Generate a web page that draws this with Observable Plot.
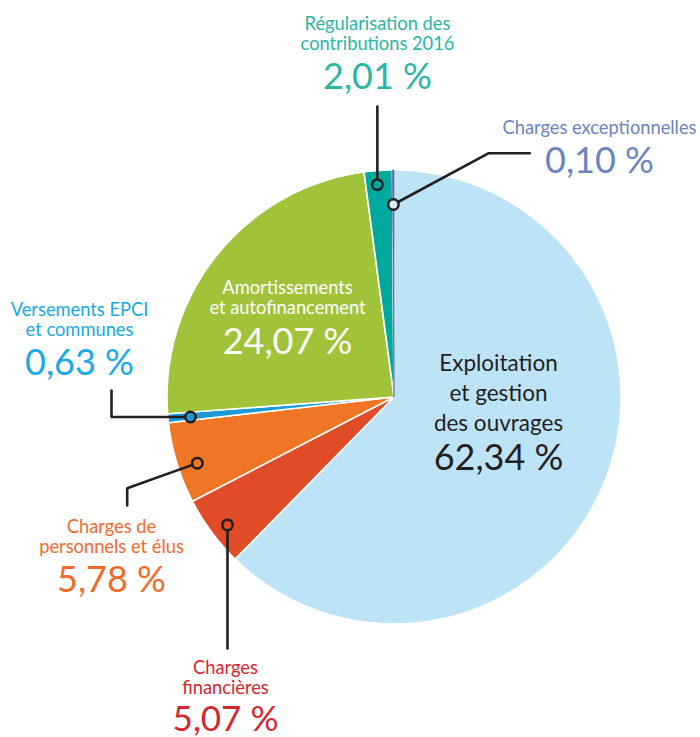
<!DOCTYPE html>
<html><head><meta charset="utf-8">
<script src="https://cdn.jsdelivr.net/npm/d3@7"></script>
<script src="https://cdn.jsdelivr.net/npm/@observablehq/plot@0.6"></script>
<style>body{margin:0;background:#fff} #chart svg{display:block}</style>
</head><body><div id="chart"></div>
<script>
// ---- data ----
const categories = [
  "Exploitation et gestion des ouvrages",
  "Charges financières",
  "Charges de personnels et élus",
  "Versements EPCI et communes",
  "Amortissements et autofinancement",
  "Régularisation des contributions 2016",
  "Charges exceptionnelles"
];
const values = [62.34, 5.07, 5.78, 0.63, 24.07, 2.01, 0.10];
const valueLabels = ["62,34 %", "5,07 %", "5,78 %", "0,63 %", "24,07 %", "2,01 %", "0,10 %"];
const labelLines = [
  ["Exploitation", "et gestion", "des ouvrages"],
  ["Charges", "financières"],
  ["Charges de", "personnels et élus"],
  ["Versements EPCI", "et communes"],
  ["Amortissements", "et autofinancement"],
  ["Régularisation des", "contributions 2016"],
  ["Charges exceptionnelles"]
];

// ---- styles ----
const sliceColors = ["#BDE3F7", "#E04B28", "#EE7624", "#1D9AD6", "#A1C33A", "#00A99D", "#4F63AE"];
const labelColors = ["#231F20", "#D5262E", "#F26A2C", "#18A9E6", "#FFFFFF", "#2BB5A6", "#6A84C2"];
const dotFills = [null, "#E04B28", "#EE7624", "#1D9AD6", null, "#00A99D", "#DDEFF9"];

// ---- layout (pixels) ----
const W = 700, H = 737, CX = 393.5, CY = 396.5, R = 227;
const FONT = "Lato, 'Open Sans', sans-serif";
// label center x, baselines of text lines, baseline of value, text size, value size
const labelLayout = [
  {cx: 498, lines: [370.7, 400.7, 430.3], num: 469, fs: 22.5, ns: 36},
  {cx: 225, lines: [673, 693], num: 730, fs: 18.3, ns: 35},
  {cx: 111, lines: [532, 552], num: 591, fs: 18.3, ns: 36},
  {cx: 79,  lines: [315, 335], num: 374, fs: 18.3, ns: 36},
  {cx: 287, lines: [293, 313], num: 353, fs: 18.3, ns: 36},
  {cx: 377, lines: [29, 49], num: 88, fs: 18.3, ns: 36},
  {cx: 599, lines: [133], num: 172, fs: 18.3, ns: 36}
];
// leader: where in slice the dot sits (fraction of angle, radius), then elbow points
const leaderLayout = [
  null,
  {f: 0.44, r: 210, pts: d => [[d.x, 648]]},
  {f: 0.42, r: 207.5, pts: d => [[126.7, 487.7], [126.7, 505]]},
  {f: 0.40, r: 204.5, pts: d => [[111, d.y], [111, 390]]},
  null,
  {f: 0.43, r: 213, pts: d => [[d.x, 106]]},
  {f: 0.5, r: 192.5, pts: d => [[488.3, 152.7], [529.3, 152.7]]}
];

// ---- geometry from data ----
const toX = px => px - CX, toY = py => CY - py;
const total = d3.sum(values);
let acc = 0;
const slices = values.map((v, i) => {
  const a0 = acc / total * 2 * Math.PI; acc += v;
  const a1 = acc / total * 2 * Math.PI;
  return {i, name: categories[i], a0, a1};
});
const polyPts = [];
for (const s of slices) {
  polyPts.push({i: s.i, name: s.name, x: 0, y: 0});
  const n = Math.max(2, Math.ceil((s.a1 - s.a0) / (Math.PI / 360)));
  for (let k = 0; k <= n; k++) {
    const a = s.a0 + (s.a1 - s.a0) * k / n;
    polyPts.push({i: s.i, name: s.name, x: R * Math.sin(a), y: R * Math.cos(a)});
  }
  polyPts.push({i: s.i, name: s.name, x: 0, y: 0});
}
const dots = [], leaderPts = [];
slices.forEach(s => {
  const L = leaderLayout[s.i];
  if (!L) return;
  const a = s.a0 + (s.a1 - s.a0) * L.f;
  const px = CX + L.r * Math.sin(a), py = CY - L.r * Math.cos(a);
  dots.push({i: s.i, x: toX(px), y: toY(py)});
  leaderPts.push({i: s.i, x: toX(px), y: toY(py)});
  for (const [ex, ey] of L.pts({x: px, y: py})) leaderPts.push({i: s.i, x: toX(ex), y: toY(ey)});
});
const texts = [];
categories.forEach((c, i) => {
  const Lt = labelLayout[i];
  labelLines[i].forEach((t, k) => texts.push({x: toX(Lt.cx), y: toY(Lt.lines[k]), text: t, fill: labelColors[i], size: Lt.fs}));
  texts.push({x: toX(Lt.cx), y: toY(Lt.num), text: valueLabels[i], fill: labelColors[i], size: Lt.ns});
});

const chart = Plot.plot({
  width: W, height: H,
  margin: 0,
  x: {domain: [-CX, W - CX], axis: null},
  y: {domain: [-(H - CY), CY], axis: null},
  color: {type: "identity"},
  marks: [
    Plot.line(polyPts, {x: "x", y: "y", z: "name", fill: d => sliceColors[d.i], stroke: "white", strokeWidth: 1.6, strokeLinejoin: "round", curve: "linear"}),
    Plot.line(polyPts.filter(d => d.i === 6), {x: "x", y: "y", z: "name", fill: d => sliceColors[d.i], stroke: d => sliceColors[d.i], strokeWidth: 0.8}),
    Plot.line(leaderPts, {x: "x", y: "y", z: "i", stroke: "#231F20", strokeWidth: 2.6, strokeLinejoin: "miter"}),
    Plot.dot(dots, {x: "x", y: "y", r: 5.2, fill: d => dotFills[d.i], stroke: "#231F20", strokeWidth: 2.6}),
    Plot.text(texts, {x: "x", y: "y", text: "text", fill: "fill", fontSize: "size", fontFamily: FONT, textAnchor: "middle", lineAnchor: "bottom"})
  ]
});
document.getElementById("chart").append(chart);
</script>
</body></html>
